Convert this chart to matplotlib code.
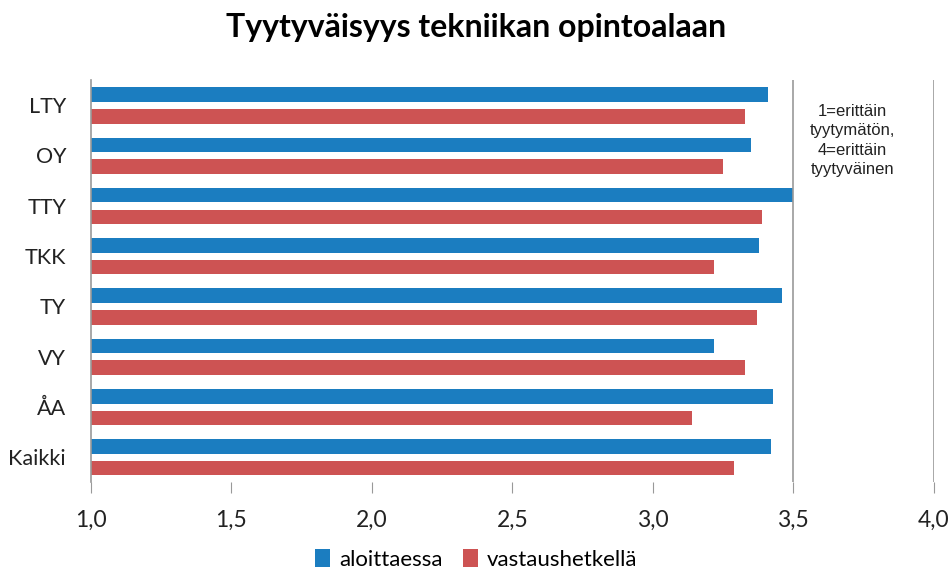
import matplotlib
matplotlib.use("Agg")
import matplotlib.pyplot as plt
import numpy as np

categories = ["LTY", "OY", "TTY", "TKK", "TY", "VY", "ÅA", "Kaikki"]
aloittaessa = [3.41, 3.35, 3.50, 3.38, 3.46, 3.22, 3.43, 3.42]
vastaushetkella = [3.33, 3.25, 3.39, 3.22, 3.37, 3.33, 3.14, 3.29]
series_names = ["aloittaessa", "vastaushetkellä"]
xticks = [1.0, 1.5, 2.0, 2.5, 3.0, 3.5, 4.0]

blue = "#1B7DC0"
red = "#CD5353"
font = "Lato"

fig = plt.figure(figsize=(9.52, 5.72), dpi=100)
ax = fig.add_axes([0.0956, 0.157, 0.885, 0.703])

y = np.arange(len(categories))
h = 0.29
ax.barh(y - 0.21, [v - 1 for v in aloittaessa], left=1, height=h, color=blue, label=series_names[0])
ax.barh(y + 0.22, [v - 1 for v in vastaushetkella], left=1, height=h, color=red, label=series_names[1])

ax.set_xlim(1.0, 4.0)
ax.set_ylim(len(categories) - 0.5, -0.5)
ax.set_yticks(y)
ax.set_yticklabels(categories, fontsize=15.5, family=font, color="#222222")
ax.set_xticks(xticks)
ax.set_xticklabels([f"{t:.1f}".replace(".", ",") for t in xticks], fontsize=16.5, family=font, color="#222222")
ax.tick_params(axis="y", length=0, pad=18)
ax.tick_params(axis="x", length=8, direction="out", pad=12, color="#999999")

for s in ["top", "right", "bottom"]:
    ax.spines[s].set_visible(False)
ax.spines["left"].set_color("#999999")
ax.spines["left"].set_linewidth(1.2)
for xv in [3.5, 4.0]:
    ax.axvline(xv, color="#999999", linewidth=1.2)

ax.text(3.71, 0.7, "1=erittäin\ntyytymätön,\n4=erittäin\ntyytyväinen",
        ha="center", va="center", fontsize=12, family="Liberation Sans",
        color="#222222", linespacing=1.38)

fig.suptitle("Tyytyväisyys tekniikan opintoalaan", x=0.50, y=0.978,
             fontsize=23, fontweight="bold", family=font)

fig.legend(loc="center", bbox_to_anchor=(0.5, 0.022), ncol=2, frameon=False,
           prop={"family": font, "size": 16}, handlelength=0.7, handleheight=0.9,
           handletextpad=0.4, columnspacing=0.9)

fig.savefig("out.png", dpi=100)
